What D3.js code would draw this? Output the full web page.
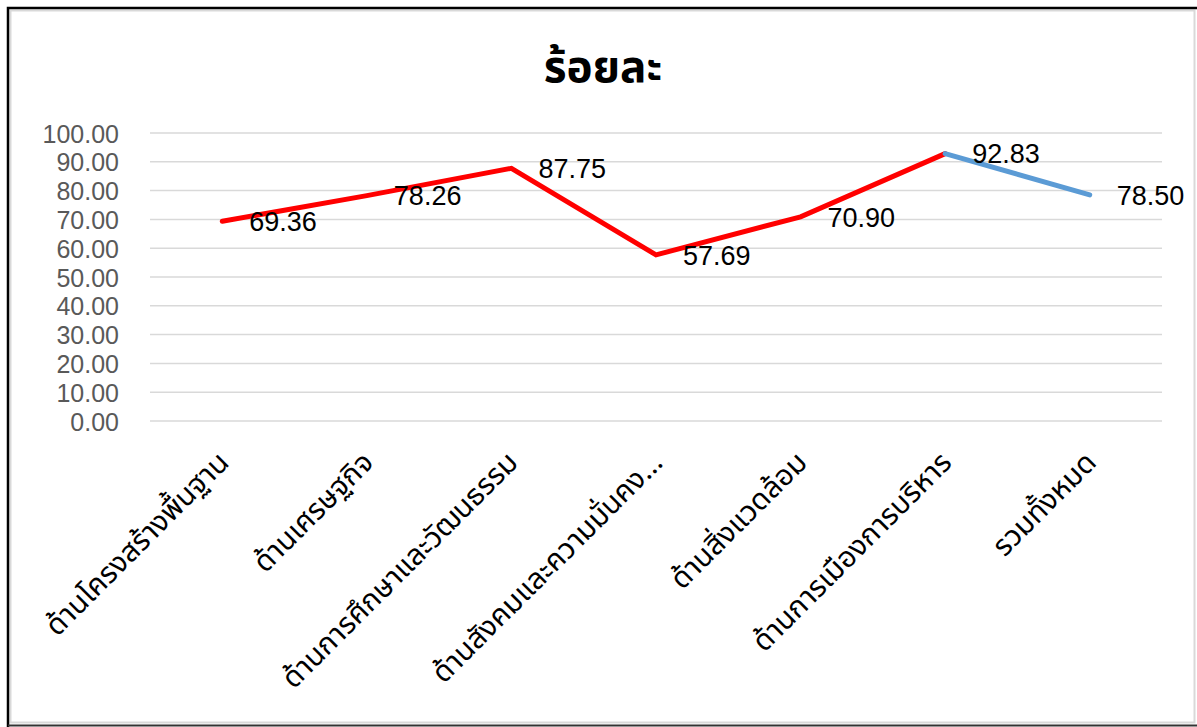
<!DOCTYPE html>
<html>
<head>
<meta charset="utf-8">
<script src="https://cdn.jsdelivr.net/npm/d3@7"></script>
<style>
  body { margin: 0; background: #fff; }
</style>
</head>
<body>
<div id="chart"></div>
<script>
// Data
const categories = [
  "ด้านโครงสร้างพื้นฐาน",
  "ด้านเศรษฐกิจ",
  "ด้านการศึกษาและวัฒนธรรม",
  "ด้านสังคมและความมั่นคง...",
  "ด้านสิ่งแวดล้อม",
  "ด้านการเมืองการบริหาร",
  "รวมทั้งหมด"
];
const values = [69.36, 78.26, 87.75, 57.69, 70.9, 92.83, 78.5];
const yTicks = [0, 10, 20, 30, 40, 50, 60, 70, 80, 90, 100];
const title = "ร้อยละ";

// Colors
const RED = "#FF0000";
const BLUE = "#5B9BD5";
const THAI_FONT = "'Noto Sans Thai', Tahoma, sans-serif";
const NUM_FONT = "'Liberation Sans', Arial, sans-serif";

const WIDTH = 1197;
const HEIGHT = 727;
const margin = { top: 133, right: 35, bottom: 306, left: 150 };

const svg = d3
  .select("#chart")
  .append("svg")
  .attr("width", WIDTH)
  .attr("height", HEIGHT);

// Frame around the chart
svg.append("rect").attr("x", 0).attr("y", 0).attr("width", WIDTH).attr("height", HEIGHT).attr("fill", "#fff");
svg.append("rect")
  .attr("x", 10.5).attr("y", 10.5)
  .attr("width", 1184).attr("height", 712)
  .attr("fill", "none").attr("stroke", "#d9d9d9").attr("stroke-width", 2);
svg.append("path")
  .attr("d", `M8,${HEIGHT} V8 H${WIDTH}`)
  .attr("fill", "none").attr("stroke", "#000").attr("stroke-width", 2.5);
svg.append("line")
  .attr("x1", 8).attr("x2", WIDTH).attr("y1", 725.5).attr("y2", 725.5)
  .attr("stroke", "#333").attr("stroke-width", 2);

// Scales
const xScale = d3
  .scaleBand()
  .domain(categories)
  .range([margin.left, WIDTH - margin.right]);

const yScale = d3
  .scaleLinear()
  .domain([0, 100])
  .range([HEIGHT - margin.bottom, margin.top]);

const xPos = (d) => xScale(d) + xScale.bandwidth() / 2;

// Gridlines
svg.append("g")
  .selectAll("line")
  .data(yTicks)
  .enter()
  .append("line")
  .attr("x1", margin.left)
  .attr("x2", WIDTH - margin.right)
  .attr("y1", (d) => yScale(d))
  .attr("y2", (d) => yScale(d))
  .attr("stroke", "#d9d9d9")
  .attr("stroke-width", 1.5);

// Y axis labels
const yAxis = svg
  .append("g")
  .attr("transform", `translate(${margin.left - 28}, 0)`)
  .call(d3.axisLeft(yScale).tickValues(yTicks).tickFormat(d3.format(".2f")).tickSize(0));
yAxis.select(".domain").remove();
yAxis.selectAll("text")
  .attr("fill", "#595959")
  .style("font-size", "25px")
  .style("font-family", NUM_FONT)
  .attr("dy", "0.36em");

// X axis labels (rotated)
const xAxis = svg
  .append("g")
  .attr("transform", `translate(0, ${HEIGHT - margin.bottom})`)
  .call(d3.axisBottom(xScale).tickSize(0));
xAxis.select(".domain").remove();
xAxis.selectAll("text")
  .attr("fill", "#000")
  .style("font-size", "29px")
  .style("font-family", THAI_FONT)
  .attr("text-anchor", "end")
  .attr("transform", "translate(1, 36) rotate(-45)")
  .attr("dy", "0.35em")
  .attr("y", 0);

// Line segments: red for the aspects, blue to the total
const points = categories.map((c, i) => ({ c: c, v: values[i] }));
const line = d3.line().x((d) => xPos(d.c)).y((d) => yScale(d.v));

svg.append("path")
  .datum(points.slice(0, 6))
  .attr("d", line)
  .attr("fill", "none")
  .attr("stroke", RED)
  .attr("stroke-width", 5)
  .attr("stroke-linecap", "round")
  .attr("stroke-linejoin", "miter");

svg.append("path")
  .datum(points.slice(5))
  .attr("d", line)
  .attr("fill", "none")
  .attr("stroke", BLUE)
  .attr("stroke-width", 5)
  .attr("stroke-linecap", "round");

// Data labels on the right of each point
svg.append("g")
  .selectAll("text")
  .data(points)
  .enter()
  .append("text")
  .attr("x", (d) => xPos(d.c) + 27)
  .attr("y", (d) => yScale(d.v))
  .attr("dy", "0.36em")
  .attr("fill", "#000")
  .style("font-size", "27px")
  .style("font-family", NUM_FONT)
  .text((d) => d.v.toFixed(2));

// Title
svg.append("text")
  .attr("x", 603)
  .attr("y", 82)
  .attr("text-anchor", "middle")
  .style("font-size", "44px")
  .style("font-weight", "bold")
  .style("font-family", THAI_FONT)
  .attr("fill", "#000")
  .text(title);
</script>
</body>
</html>
